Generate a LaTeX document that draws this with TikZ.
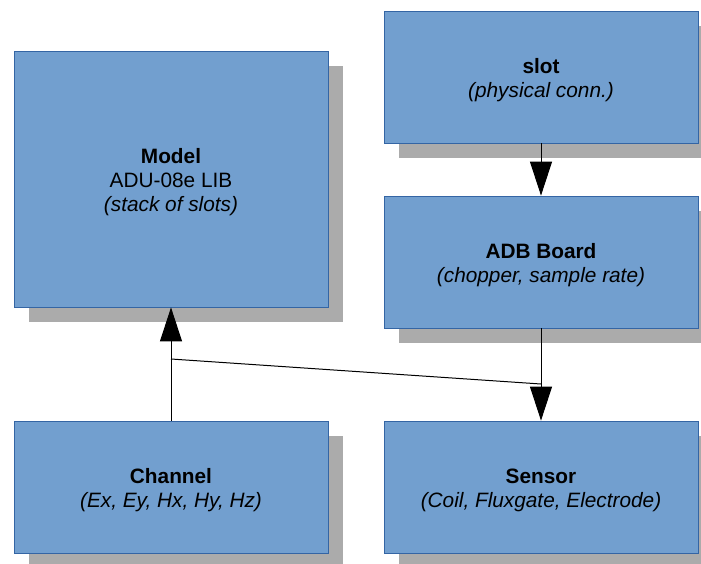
\documentclass[tikz,border=0pt]{standalone}
\usepackage{fontspec}
\setmainfont{Liberation Sans}
\usetikzlibrary{arrows.meta,shadows}
\definecolor{boxfill}{RGB}{114,159,207}
\definecolor{boxline}{RGB}{52,101,164}
\definecolor{shadowgray}{RGB}{171,171,171}
\newcommand{\topstrut}{\rule{0pt}{1.0em}}
\begin{document}
\begin{tikzpicture}[x=1pt,y=-1pt,
  block/.style={draw=boxline, line width=0.8pt, fill=boxfill, minimum width=314pt, align=center,
    inner sep=0pt, font=\fontsize{20.8}{23.8}\selectfont,
    drop shadow={shadow xshift=15pt, shadow yshift=-15pt, fill=shadowgray, opacity=1}},
  conn/.style={line width=1pt, draw=black},
  arr/.style={conn, -{Triangle[length=34pt,width=22pt]}}]
\useasboundingbox (0,0) rectangle (701,563);
\node[block, minimum height=256pt] (model) at (171,179) {\topstrut\textbf{Model}\\ADU-08e LIB\\\textit{(stack of slots)}};
\node[block, minimum height=132pt] (slot) at (541,77) {\topstrut\textbf{slot}\\\textit{(physical conn.)}};
\node[block, minimum height=132pt] (adb) at (541,262) {\topstrut\textbf{ADB Board}\\\textit{(chopper, sample rate)}};
\node[block, minimum height=132pt] (channel) at (171,487) {\topstrut\textbf{Channel}\\\textit{(Ex, Ey, Hx, Hy, Hz)}};
\node[block, minimum height=132pt] (sensor) at (541,487) {\topstrut\textbf{Sensor}\\\textit{(Coil, Fluxgate, Electrode)}};
\coordinate (j1) at (171,359);
\coordinate (j2) at (541,384);
\draw[arr] (slot) -- (adb);
\draw[arr] (adb) -- (sensor);
\draw[arr] (channel) -- (model);
\draw[conn] (j1) -- (j2);
\end{tikzpicture}
\end{document}
